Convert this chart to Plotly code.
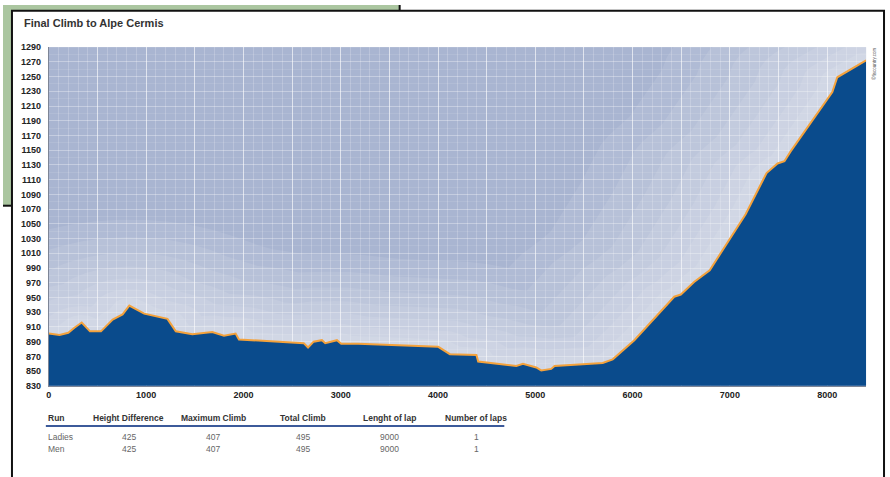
import numpy as np
import plotly.graph_objects as go

# ---------------- data ----------------
distance_m = [0, 110, 200, 263, 338, 423, 536, 656, 758, 827, 980, 1219, 1305, 1475,
              1680, 1800, 1920, 1954, 2620, 2664, 2722, 2807, 2841, 2961, 3005, 3180,
              4003, 4122, 4395, 4413, 4805, 4873, 5010, 5061, 5164, 5198, 5693, 5796,
              6018, 6428, 6496, 6632, 6793, 7162, 7377, 7490, 7561, 7623, 8053, 8104, 8400]
elevation_m = [901, 899, 902, 909, 916, 904, 904, 920, 927, 939, 928, 921, 904, 900,
               903, 898, 901, 893, 888, 882, 890, 892, 888, 892, 887, 887,
               883, 873, 872, 863, 857, 860, 855, 851, 853, 857, 861, 866,
               892, 951, 954, 971, 987, 1063, 1119, 1132, 1135, 1148, 1229, 1249, 1272]

x_tick_vals = list(range(0, 8001, 500))
x_tick_text = [str(v) if v % 1000 == 0 else "" for v in x_tick_vals]
y_tick_vals = list(range(830, 1291, 20))

table_headers = ["Run", "Height Difference", "Maximum Climb", "Total Climb", "Lenght of lap", "Number of laps"]
table_rows = [
    ["Ladies", "425", "407", "495", "9000", "1"],
    ["Men", "425", "407", "495", "9000", "1"],
]

title_text = "Final Climb to Alpe Cermis"

# ---------------- layout geometry ----------------
W, H = 890, 477
PX_L, PX_R, PX_T, PX_B = 46, 866, 43, 389
X_RANGE = [0, 8400]
Y_RANGE = [830, 1290]


def px(x):
    return x / W


def py(y):
    return 1 - y / H


sx = (PX_R - PX_L) / (X_RANGE[1] - X_RANGE[0])
sy = (PX_B - PX_T) / (Y_RANGE[1] - Y_RANGE[0])

# ---------------- glow envelope (derived from profile) ----------------
xs = np.arange(0, 8401, 10, dtype=float)
prof = np.interp(xs, distance_m, elevation_m)
Xp = xs * sx
Yp = prof * sy
dX = Xp[:, None] - Xp[None, :]

fig = go.Figure()

glow_radii = [8, 17, 28, 40, 54, 70, 88]
for R in glow_radii:
    A = 2.0 * R
    u = np.clip(1 - (dX / A) ** 2, 0, None)
    bump = np.where(np.abs(dX) <= A, R * np.sqrt(u), -1e9)
    env = (Yp[None, :] + bump).max(axis=1) / sy
    env = np.minimum(env, Y_RANGE[1] + 50)
    fig.add_trace(go.Scatter(
        x=np.concatenate([xs, xs[::-1]]),
        y=np.concatenate([env, prof[::-1]]),
        fill="toself", fillcolor="rgba(255,255,255,0.09)",
        line=dict(width=0), mode="lines", hoverinfo="skip", showlegend=False))

fig.add_trace(go.Scatter(
    x=distance_m, y=elevation_m, mode="lines",
    fill="tozeroy", fillcolor="#0a4b8c",
    line=dict(color="#f4a23c", width=2),
    showlegend=False))

font_fam = "Liberation Sans, Arial, sans-serif"

fig.update_layout(
    width=W, height=H,
    margin=dict(l=0, r=0, t=0, b=0),
    paper_bgcolor="white",
    plot_bgcolor="#a9b5d1",
    showlegend=False,
    xaxis=dict(
        domain=[px(PX_L), px(PX_R)], range=X_RANGE,
        tickmode="array", tickvals=x_tick_vals,
        ticktext=["<b>%s</b>" % t if t else "" for t in x_tick_text],
        showgrid=True, gridcolor="rgba(255,255,255,0.55)", gridwidth=1,
        minor=dict(tickmode="linear", tick0=0, dtick=100, showgrid=True,
                   gridcolor="rgba(255,255,255,0.2)", gridwidth=1),
        showline=True, linecolor="#7d8596", linewidth=1,
        ticks="", zeroline=False, layer="above traces",
        tickfont=dict(family=font_fam, size=9, color="#222"),
    ),
    yaxis=dict(
        domain=[py(PX_B), py(PX_T)], range=Y_RANGE,
        tickmode="array", tickvals=y_tick_vals,
        ticktext=["<b>%d</b>" % v for v in y_tick_vals],
        showgrid=True, gridcolor="rgba(255,255,255,0.26)", gridwidth=1,
        minor=dict(tickmode="linear", tick0=830, dtick=10, showgrid=True,
                   gridcolor="rgba(255,255,255,0.1)", gridwidth=1, ticks=""),
        showline=True, linecolor="#7d8596", linewidth=1,
        ticks="outside", ticklen=5, tickcolor="rgba(0,0,0,0)",
        zeroline=False, layer="above traces",
        tickfont=dict(family=font_fam, size=9, color="#222"),
    ),
)

shapes = []
# green tab outside the frame (top-left)
shapes.append(dict(type="path", xref="paper", yref="paper", layer="below",
                   path="M %f,%f L %f,%f L %f,%f L %f,%f L %f,%f L %f,%f Z" % (
                       px(0), py(0), px(398), py(0), px(398), py(6),
                       px(9), py(6), px(9), py(205), px(0), py(205)),
                   fillcolor="#abc6a0", line=dict(width=0)))
shapes.append(dict(type="line", xref="paper", yref="paper",
                   x0=px(398), x1=px(398), y0=py(0), y1=py(6),
                   line=dict(color="#111", width=2)))
shapes.append(dict(type="line", xref="paper", yref="paper",
                   x0=px(0), x1=px(9), y0=py(205), y1=py(205),
                   line=dict(color="#111", width=2)))
# frame
shapes.append(dict(type="rect", xref="paper", yref="paper",
                   x0=px(9), x1=px(884), y0=py(490), y1=py(6),
                   line=dict(color="#111", width=2)))
# table header rule
shapes.append(dict(type="line", xref="paper", yref="paper",
                   x0=px(43), x1=px(503), y0=py(430), y1=py(430),
                   line=dict(color="#3c5a9a", width=2)))
fig.update_layout(shapes=shapes)

annos = []
annos.append(dict(text="<b>%s</b>" % title_text, xref="paper", yref="paper",
                  x=px(19), y=py(18), xanchor="left", yanchor="middle", showarrow=False,
                  font=dict(family=font_fam, size=11, color="#333")))

col_x = [43, 126, 211, 301, 388, 475]
for i, htxt in enumerate(table_headers):
    annos.append(dict(text="<b>%s</b>" % htxt, xref="paper", yref="paper",
                      x=px(col_x[i]), y=py(422),
                      xanchor="left" if i == 0 else "center", yanchor="middle",
                      showarrow=False, font=dict(family=font_fam, size=8.5, color="#333")))
for r, row in enumerate(table_rows):
    for i, cell in enumerate(row):
        annos.append(dict(text=cell, xref="paper", yref="paper",
                          x=px(col_x[i]), y=py(441 + 13 * r),
                          xanchor="left" if i == 0 else "center", yanchor="middle",
                          showarrow=False, font=dict(family=font_fam, size=8.5, color="#666")))

annos.append(dict(text="©fiscountry.com", xref="paper", yref="paper",
                  x=px(874), y=py(60), textangle=-90, showarrow=False,
                  xanchor="center", yanchor="middle",
                  font=dict(family=font_fam, size=4.5, color="#555")))
fig.update_layout(annotations=annos)

fig.write_html("out.html",
               config={"displayModeBar": False},
               post_script="document.body.style.margin='0';document.body.style.padding='0';"
                           "document.body.style.overflow='hidden';")
